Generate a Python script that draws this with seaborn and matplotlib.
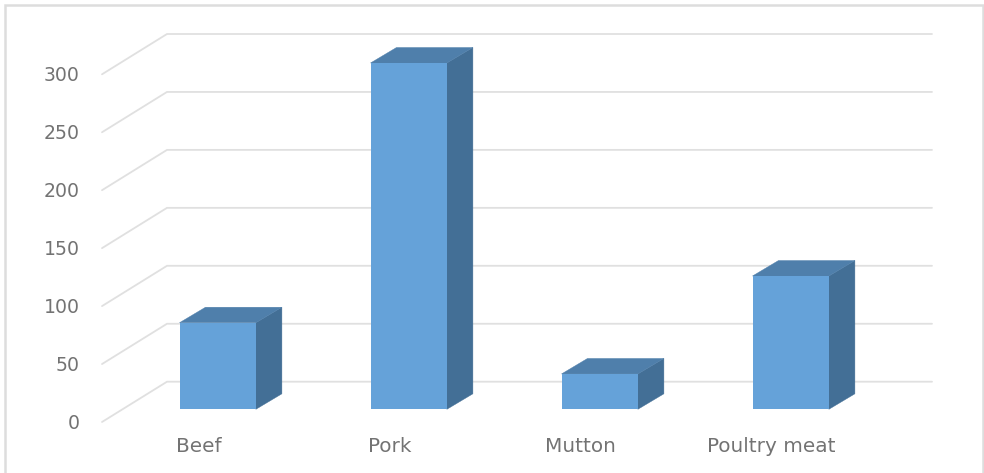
import matplotlib
matplotlib.use("Agg")
import matplotlib.pyplot as plt
import matplotlib.transforms as mtrans
from matplotlib.patches import Polygon, Rectangle
import pandas as pd
import seaborn as sns

categories = ["Beef", "Pork", "Mutton", "Poultry meat"]
values = [74.7, 298.8, 30.5, 115]
y_ticks = [0, 50, 100, 150, 200, 250, 300]

W, H = 984, 473
FRONT = "#65a2d9"
TOP = "#4f7fab"
SIDE = "#436f96"
GRID = "#e0e0e0"
TEXT = "#737373"

sns.set_theme(style="white")
plt.rcParams["font.family"] = ["DejaVu Sans"]

fig = plt.figure(figsize=(W / 100, H / 100), dpi=100, facecolor="white")

# axes rectangle in pixels: value 0 on the front of the bars
left, right, top_px, base_px = 102, 932, 34, 409.3
ax = fig.add_axes([left / W, 1 - base_px / H, (right - left) / W, (base_px - top_px) / H])

px_per_cat = 191.0
px_per_val = 1.159
xmin = (left - 217.7) / px_per_cat
xmax = (right - 217.7) / px_per_cat
ymax = (base_px - top_px) / px_per_val

df = pd.DataFrame({"meat": categories, "value": values})
sns.barplot(data=df, x="meat", y="value", color=FRONT, saturation=1, width=0.4, ax=ax, zorder=4,
            linewidth=0)
ax.set_xlim(xmin, xmax)
ax.set_ylim(0, ymax)
ax.set_xlabel("")
ax.set_ylabel("")
for s in ax.spines.values():
    s.set_visible(False)

dx = lambda p: p / px_per_cat
dy = lambda p: p / px_per_val

# back wall and side wall grid lines
for v in y_ticks:
    ax.plot([xmin, xmin + dx(65), xmax],
            [v - dy(12.7), v + dy(27.6), v + dy(27.6)],
            color=GRID, lw=1.3, clip_on=False, zorder=1, solid_joinstyle="miter")

# bar depth faces
depth_x, depth_y = dx(26), dy(15.5)
half = 0.2
for i, v in enumerate(values):
    ax.add_patch(Polygon([(i + half, 0), (i + half + depth_x, depth_y),
                          (i + half + depth_x, v + depth_y), (i + half, v)],
                         closed=True, facecolor=SIDE, edgecolor=SIDE, lw=0.3, clip_on=False, zorder=3))
    ax.add_patch(Polygon([(i - half, v), (i + half, v),
                          (i + half + depth_x, v + depth_y), (i - half + depth_x, v + depth_y)],
                         closed=True, facecolor=TOP, edgecolor=TOP, lw=0.3, clip_on=False, zorder=3))

# ticks: labels sit on the floor line, off the bar plane
ax.set_yticks(y_ticks)
ax.set_yticklabels([str(t) for t in y_ticks])
ax.tick_params(axis="both", length=0, colors=TEXT)
ax.tick_params(axis="y", pad=16, labelsize=13.6)
ax.tick_params(axis="x", pad=0, labelsize=14.4)
yshift = mtrans.ScaledTranslation(0, -12 / 100, fig.dpi_scale_trans)
for lab in ax.get_yticklabels():
    lab.set_transform(lab.get_transform() + yshift)
xshift = mtrans.ScaledTranslation(-19 / 100, -28 / 100, fig.dpi_scale_trans)
for lab in ax.get_xticklabels():
    lab.set_transform(lab.get_transform() + xshift)

# outer frame of the picture
fig.add_artist(Rectangle((5 / W, -0.02), (983 - 5) / W, 1.02 - 5 / H, transform=fig.transFigure,
                         fill=False, edgecolor="#dddddd", lw=1.8))

fig.savefig("out.png", dpi=100)
